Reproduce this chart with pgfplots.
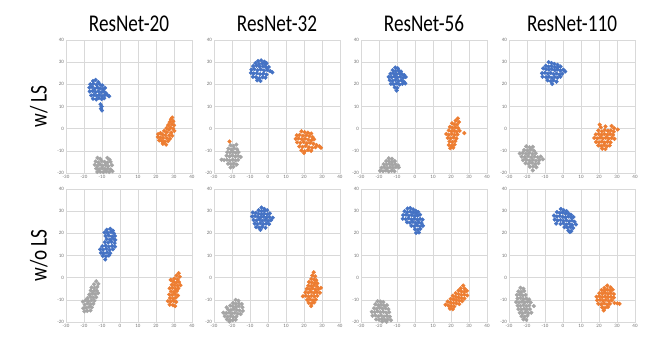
\documentclass[border=0pt]{standalone}
\usepackage{fontspec}
\setmainfont{Carlito}
\newfontfamily\tfont[FakeStretch=0.8]{Carlito}
\usepackage{pgfplots}
\pgfplotsset{compat=1.18}

\definecolor{cblue}{HTML}{4472C4}
\definecolor{corange}{HTML}{ED7D31}
\definecolor{cgray}{HTML}{A5A5A5}
\definecolor{gridc}{HTML}{D9D9D9}

\tikzset{rowlab/.style={rotate=90, anchor=center, font=\tfont\fontsize{24}{28}\selectfont}}
\pgfplotsset{
  panel/.style={
    scale only axis, width=126pt, height=133pt, anchor=south west,
    xmin=-30, xmax=40, ymin=-20, ymax=40,
    xtick={-30,-20,...,40}, ytick={-20,-10,...,40},
    grid=major, major grid style={draw=gridc, line width=0.5pt},
    axis line style={draw=gridc, line width=0.5pt},
    major tick length=0pt,
    tick label style={font=\fontsize{5}{6}\selectfont, text=black!55},
    /pgf/number format/assume math mode=true,
    xticklabel style={yshift=1.5pt}, yticklabel style={xshift=1.5pt},
    title style={font=\tfont\fontsize{24}{28}\selectfont, yshift=-1pt},
    clip=false,
  },
  pb/.style={only marks, mark=*, mark size=1.9pt, color=cblue},
  po/.style={only marks, mark=*, mark size=1.9pt, color=corange},
  pg/.style={only marks, mark=*, mark size=1.9pt, color=cgray},
}

\begin{document}
\begin{tikzpicture}
\useasboundingbox (0,0) rectangle (664pt,340pt);

% ---------- row 1: w/ LS ----------
\begin{axis}[panel, at={(66pt,167pt)}, title={ResNet-20}]
\addplot[pg] coordinates {(-12.5,-13.2)(-11,-13.6)(-7,-13.2)(-5.8,-14)(-13.5,-14.8)(-12,-15.2)(-10.2,-14.6)(-8.5,-15)(-7,-15.3)(-5.2,-15)(-14,-16.3)(-12.5,-16.8)(-11,-16.2)(-9.6,-16.7)(-8,-16.4)(-6.5,-16.9)(-4.5,-16.5)(-13.2,-18)(-11.6,-18.3)(-10,-17.8)(-8.4,-18.2)(-6.8,-18)(-5.2,-18.4)(-12.6,-19.5)(-11,-19.4)(-9.2,-19.6)(-7.6,-19.3)(-6,-19.5)(-4.2,-19.2)};
\addplot[po] coordinates {(29,5)(28.3,4.2)(29.6,3.3)(27.6,3)(28.8,2)(30,1.5)(26.8,1.6)(28,0.6)(29.5,0)(25.8,0.2)(27.2,-0.5)(30.2,-1)(24.5,-1)(26,-1.6)(28.5,-1.8)(22.5,-2)(21.2,-2.5)(23.6,-2.6)(25.2,-2.9)(27.4,-3)(29,-3.2)(21,-3.8)(22.5,-4)(24,-4.2)(26,-4.3)(27.8,-4.5)(21.8,-5.3)(23.2,-5.5)(25,-5.8)(26.8,-5.6)(23.8,-6.8)(25.6,-7.2)(24.5,-6)};
\addplot[pb] coordinates {(-15,21.5)(-13.5,22)(-12,21)(-16.5,20)(-14.8,20.3)(-13,19.8)(-11.2,20)(-9.8,19.5)(-17,18.5)(-15.5,18.8)(-14,18)(-12.5,18.6)(-11,18.2)(-9.5,17.8)(-8.3,18.4)(-16.8,16.8)(-15.2,17)(-13.6,16.5)(-12,16.9)(-10.4,16.4)(-9,16.8)(-7.8,16)(-16,15)(-14.5,15.2)(-13,14.8)(-11.5,15.3)(-10,14.7)(-8.5,15.1)(-7,15.2)(-6,14.6)(-15,13.5)(-13.2,13.2)(-11.8,13.8)(-10.2,13.4)(-8.8,13.7)(-10.8,11)(-10.2,10)(-10.6,9)(-10,8.2)};
\node[rowlab] at (rel axis cs:-0.215,0.5) {w/ LS};
\end{axis}

\begin{axis}[panel, at={(214pt,167pt)}, title={ResNet-32}]
\addplot[pg] coordinates {(-20.8,-7.5)(-19.2,-7.8)(-17.6,-7.2)(-22,-9)(-20.4,-9.4)(-18.8,-8.9)(-17.2,-9.3)(-22.6,-10.6)(-21,-10.8)(-19.4,-10.5)(-17.8,-10.9)(-16.4,-10.6)(-23,-12.2)(-21.4,-12.5)(-19.8,-12.1)(-18.2,-12.6)(-16.6,-12.3)(-15.2,-12.8)(-25.8,-14)(-24.4,-14.2)(-22.8,-14)(-21.2,-14.4)(-19.6,-14)(-18,-14.3)(-16.6,-14.1)(-22.2,-15.8)(-20.6,-16)(-19,-15.7)(-17.4,-16.2)(-20.8,-17.5)(-19.2,-17.2)};
\addplot[po] coordinates {(-21.4,-5.8)(18.6,-1.2)(20.4,-1.6)(22.2,-1.8)(24,-2.2)(16,-3)(17.6,-2.8)(19.4,-3.2)(21.2,-3)(23,-3.4)(24.8,-3.8)(15.4,-4.6)(17,-4.4)(18.8,-4.8)(20.6,-4.5)(22.4,-5)(24.2,-5.2)(25.6,-4.8)(16.2,-6.2)(18,-6.4)(19.8,-6)(21.6,-6.6)(23.4,-6.4)(25.2,-6.8)(27,-7.4)(28.6,-8)(29.4,-8.6)(17.4,-8)(19.2,-8.2)(21,-7.8)(22.8,-8.4)(24.6,-8.6)(26.4,-8.4)(18.6,-9.8)(20.4,-10.2)(22.2,-9.6)(24,-10)(20,-11)};
\addplot[pb] coordinates {(-5.5,30.5)(-3.8,30.8)(-2,30.2)(-0.8,29.6)(-7,29.6)(-5,29.2)(-3.2,29.4)(-1.4,28.8)(-8.2,28.2)(-6.4,28.4)(-4.6,28)(-2.8,28.1)(-1,27.6)(0.4,27.8)(-9.2,26.6)(-7.6,26.9)(-5.8,26.4)(-4,26.7)(-2.2,26.2)(-0.4,26.5)(1.2,26)(2.4,25.4)(-9.5,25.2)(-8,24.9)(-6.2,25)(-4.4,24.6)(-2.6,24.8)(-0.8,24.4)(-8.4,23.4)(-6.6,23.2)(-4.8,22.8)(-3,23.2)(-1.4,23)(-6,21.8)(-4.2,21.5)};
\end{axis}

\begin{axis}[panel, at={(361pt,167pt)}, title={ResNet-56}]
\addplot[pg] coordinates {(-14.6,-13.4)(-12.8,-13.6)(-16,-14.6)(-14.4,-14.8)(-12.8,-15)(-11.2,-14.6)(-17.4,-16)(-15.8,-16.2)(-14.2,-15.9)(-12.6,-16.3)(-11,-16)(-9.4,-16.6)(-18.6,-17.6)(-17,-17.4)(-15.4,-17.8)(-13.8,-17.4)(-12.2,-17.7)(-10.6,-17.3)(-9,-17.5)(-19.4,-19)(-17.8,-19.2)(-16.2,-18.9)(-14.6,-19.3)(-13,-19)(-11.4,-19.2)};
\addplot[po] coordinates {(23.8,4.6)(22.6,3.6)(24.4,3)(20.6,2.4)(21.8,2)(23.4,1.8)(19.4,0.8)(20.8,0.4)(22.4,0.6)(24,0.2)(18.8,-0.8)(20.2,-1.2)(21.8,-1)(23.2,-1.4)(24.8,-1)(17.4,-2.4)(18.8,-2.8)(20.4,-2.4)(22,-2.8)(23.6,-2.6)(27.4,-2)(18.2,-4.2)(19.8,-4.4)(21.4,-4)(23,-4.4)(19.2,-5.8)(20.8,-6)(22.4,-5.6)(18.8,-7.4)(20.4,-7.6)(22,-7.2)(19.6,-8.8)(21.2,-8.6)};
\addplot[pb] coordinates {(-11,27.6)(-9.6,27.2)(-12.4,26.4)(-10.8,26)(-9.2,26.3)(-7.8,25.8)(-13.6,24.8)(-12,25)(-10.4,24.6)(-8.8,24.9)(-7.2,24.5)(-6,24.2)(-14.6,23.4)(-13,23.2)(-11.4,23.6)(-9.8,23.1)(-8.2,23.4)(-6.6,22.9)(-5.2,23.3)(-14,21.8)(-12.4,21.6)(-10.8,22)(-9.2,21.5)(-7.6,21.8)(-6.2,21.2)(-13.4,20.2)(-11.8,20)(-10.2,20.4)(-8.6,19.9)(-7,20.2)(-5.4,20.4)(-11.2,18.6)(-9.8,18.4)(-10.2,17.2)};
\end{axis}

\begin{axis}[panel, at={(509pt,167pt)}, title={ResNet-110}]
\addplot[pg] coordinates {(-20.4,-8)(-18.6,-8.4)(-16.8,-8.2)(-21.6,-9.6)(-19.8,-9.8)(-18,-9.4)(-16.2,-9.9)(-24,-11.2)(-22.4,-11)(-20.6,-11.3)(-18.8,-11)(-17,-11.4)(-15.2,-11.1)(-23,-12.6)(-21.2,-12.8)(-19.4,-12.4)(-17.6,-12.9)(-15.8,-12.6)(-14,-12.9)(-12.4,-12.6)(-22.2,-14.2)(-20.4,-14)(-18.6,-14.4)(-16.8,-14.1)(-15,-14.5)(-13.2,-14.2)(-11.2,-13.8)(-20.8,-15.6)(-19,-15.8)(-17.2,-15.4)(-15.4,-15.9)(-13.6,-15.6)(-18.4,-17.2)(-16.6,-17)(-14.8,-17.4)(-16.8,-18.8)};
\addplot[po] coordinates {(20.4,1.8)(21,0.6)(23.6,1)(27,1.2)(28.4,0.2)(30.4,-0.4)(19.6,-0.8)(21.6,-1.2)(23.2,-0.6)(25,-1)(26.6,-0.8)(28.2,-1.4)(18.2,-2.6)(19.8,-2.4)(21.4,-2.8)(23,-2.4)(24.6,-2.8)(26.2,-2.4)(27.8,-2.8)(17.4,-4.2)(19,-4.4)(20.6,-4)(22.2,-4.4)(23.8,-4.1)(25.4,-4.5)(27,-4.2)(28.6,-4.6)(18.4,-6)(20,-6.2)(21.6,-5.8)(23.2,-6.3)(24.8,-5.9)(26.4,-6.2)(19.6,-7.6)(21.2,-7.8)(22.8,-7.4)(24.4,-7.9)(26,-7.6)(21.8,-9)(23.6,-9.2)};
\addplot[pb] coordinates {(-8,30)(-6.4,29.6)(-4.8,29.2)(-3,28.8)(-9.6,28.4)(-8,28)(-6.4,28.2)(-4.6,27.8)(-3,27.6)(-1.4,28)(-11,27.2)(-9.4,26.8)(-7.8,26.6)(-6.2,26.9)(-4.6,26.4)(-3,26.7)(-1.4,26.2)(0.2,26.6)(1.2,25.8)(-11.6,25)(-10,25.2)(-8.4,24.8)(-6.8,25.1)(-5.2,24.6)(-3.6,24.9)(-2,24.4)(-0.4,24.8)(-11.4,23.4)(-9.4,23.2)(-7.8,23.4)(-6.2,22.9)(-4.6,23.3)(-3,23)(-1.4,23.4)(-8.6,21.8)(-6.8,21.4)(-5.2,21.8)(-3.6,21.2)(-6,20.2)};
\end{axis}

% ---------- row 2: w/o LS ----------
\begin{axis}[panel, at={(66pt,18pt)}]
\addplot[pg] coordinates {(-13.2,-1.6)(-12,-2.8)(-14.4,-3)(-12.6,-4.2)(-14.2,-4.6)(-15.8,-4.4)(-13,-5.8)(-14.6,-6)(-16.2,-5.8)(-12.2,-7)(-13.8,-7.4)(-15.4,-7.2)(-17,-7.6)(-13.2,-8.8)(-14.8,-9)(-16.4,-8.6)(-18,-9.2)(-14.2,-10.4)(-15.8,-10.2)(-17.4,-10.6)(-19,-10.2)(-20.6,-10.8)(-14.8,-11.8)(-16.4,-12)(-18,-11.6)(-19.6,-12.2)(-15.6,-13.4)(-17.2,-13.2)(-18.8,-13.6)(-20.4,-13.8)(-16.4,-14.8)(-18.2,-15)(-19.8,-15.2)};
\addplot[po] coordinates {(32.6,2)(31.4,1)(33.2,0.4)(30.2,-0.4)(32,-0.8)(28.2,-1)(29.6,-1.8)(31.2,-2.2)(32.8,-2)(28.8,-3.2)(30.4,-3.4)(32,-3.6)(33.6,-3.4)(27.6,-4.8)(29.2,-4.6)(30.8,-5)(32.4,-4.8)(28.4,-6.2)(30,-6.4)(31.6,-6)(27.4,-7.6)(29,-7.8)(30.6,-7.4)(32.2,-8)(27.8,-9.2)(29.4,-9.4)(31,-9)(26.6,-10.6)(28.2,-10.8)(29.8,-10.4)(31.2,-11)(27.6,-12.2)(29.4,-12.4)(30.6,-12.8)};
\addplot[pb] coordinates {(-7.4,21.6)(-5.4,22)(-4,21.2)(-8.6,20.4)(-6.8,20.2)(-5,20.6)(-3.4,20)(-8,18.8)(-6.2,19)(-4.4,18.6)(-2.8,18.8)(-7.4,17.4)(-5.6,17.2)(-3.8,17.6)(-2.6,17)(-8.4,16)(-6.6,15.8)(-4.8,16.2)(-3,15.6)(-9.8,14.2)(-8,14.4)(-6.2,14)(-4.4,14.3)(-2.8,14)(-11,12.8)(-9.4,12.6)(-7.6,13)(-5.8,12.5)(-4,12.8)(-10.6,11.2)(-9,11)(-7.2,11.4)(-5.4,11)(-9.6,9.8)(-7.8,9.6)(-6.2,10)(-8.2,8.2)};
\node[rowlab] at (rel axis cs:-0.215,0.5) {w/o LS};
\end{axis}

\begin{axis}[panel, at={(214pt,18pt)}]
\addplot[pg] coordinates {(-18,-10)(-16.4,-10.4)(-19.4,-11.4)(-17.8,-11.8)(-16.2,-11.6)(-14.6,-11.9)(-21,-12.6)(-19.4,-13)(-17.8,-13.2)(-16.2,-12.8)(-14.2,-13.4)(-23,-13.4)(-22.2,-14.4)(-20.6,-14.6)(-19,-14.2)(-17.4,-14.6)(-15.8,-14.8)(-14,-15)(-24.8,-15.8)(-23.2,-16)(-21.6,-15.8)(-20,-16.2)(-18.4,-15.9)(-16.8,-16.3)(-15.2,-16.4)(-24,-17.4)(-22.4,-17.6)(-20.8,-17.4)(-19.2,-17.8)(-17.6,-17.6)(-22.8,-18.8)(-21.2,-19)(-19.6,-19.2)(-18,-19)(-21.4,-19.8)};
\addplot[po] coordinates {(25.4,2.4)(24.6,1)(26.2,0.6)(24,-0.6)(25.6,-0.8)(26.8,-1.2)(22.8,-2)(24.4,-2.2)(26,-2.4)(27.4,-2.6)(22.4,-3.6)(24,-3.8)(25.6,-3.4)(27.2,-4)(21.6,-5)(23.2,-5.2)(24.8,-4.8)(26.4,-5.4)(28,-5.2)(29.4,-4.6)(20.8,-6.6)(22.4,-6.8)(24,-6.4)(25.6,-6.9)(27.2,-6.6)(28.8,-6.8)(19.4,-8.4)(21,-8.2)(22.6,-8.6)(24.2,-8.2)(25.8,-8.5)(27.4,-8.2)(21.8,-10)(23.4,-9.8)(25,-10.2)(26.6,-9.9)(22.6,-11.4)(24.2,-11.6)(25.6,-11.2)(24,-12.8)};
\addplot[pb] coordinates {(-3.6,31.6)(-2,31)(-5.2,30.4)(-3.6,30)(-2,30.2)(-0.4,30.4)(-8.4,29.4)(-6.8,29.2)(-5.2,28.8)(-3.6,28.6)(-2,28.9)(-0.4,28.6)(1,29)(-8.8,27.6)(-7.2,27.8)(-5.6,27.4)(-4,27.2)(-2.4,27.5)(-0.8,27.1)(0.8,27.4)(2.6,27)(-8,26)(-6.4,25.8)(-4.8,26.2)(-3.2,25.7)(-1.6,26)(0,25.6)(1.6,25.9)(-7.4,24.4)(-5.8,24.2)(-4.2,24.6)(-2.6,24.1)(-1,24.4)(0.6,24.2)(-6.6,22.8)(-5,22.6)(-3.2,22.9)(-1.4,22.5)(-4.2,21.6)};
\end{axis}

\begin{axis}[panel, at={(361pt,18pt)}]
\addplot[pg] coordinates {(-20.8,-10.6)(-19.2,-10.8)(-17.6,-11)(-22,-12)(-20.4,-12.4)(-18.8,-12.2)(-17.2,-12.6)(-15.6,-12.4)(-22.8,-13.8)(-21.2,-14)(-19.6,-13.6)(-18,-14)(-16.4,-13.8)(-14.8,-14.2)(-24,-15.4)(-22.4,-15.6)(-20.8,-15.2)(-19.2,-15.6)(-17.6,-15.4)(-16,-15.8)(-14.4,-15.6)(-23.6,-17.2)(-22,-17)(-20.4,-17.4)(-18.8,-17)(-17.2,-17.5)(-15.6,-17.2)(-14,-17.6)(-21.6,-18.8)(-20,-19)(-18.4,-18.6)(-16.8,-19)(-15.2,-18.8)(-13.4,-19.2)(-18.2,-19.8)(-15.8,-19.9)};
\addplot[po] coordinates {(26.8,-3.6)(25.4,-4.8)(27.6,-5)(24.2,-5.8)(25.8,-6.2)(27.4,-6.4)(28.8,-6)(22.6,-7)(24.2,-7.4)(25.8,-7.8)(27.4,-7.6)(29,-8)(21,-8.2)(22.6,-8.6)(24.2,-8.9)(25.8,-9.2)(27.4,-9.4)(19.8,-9.6)(21.4,-9.8)(23,-10.2)(24.6,-10.4)(26.2,-10.6)(18.2,-10.8)(19.8,-11.2)(21.4,-11.4)(23,-11.6)(24.6,-11.9)(17,-12.2)(18.6,-12.6)(20.2,-12.8)(21.8,-13)(19.4,-14)(21,-14.2)};
\addplot[pb] coordinates {(-4.2,31.2)(-2.6,31.4)(-1,30.8)(0.4,30.2)(-5.8,30)(-4.2,29.6)(-2.6,29.8)(-1,29.4)(0.6,29.2)(1.8,29.6)(-6.6,28.2)(-5,28.4)(-3.4,28)(-1.8,28.2)(-0.2,27.8)(1.4,28)(2.8,28.4)(-6.8,26.6)(-5.2,26.4)(-3.6,26.8)(-2,26.3)(-0.4,26.6)(1.2,26.2)(2.8,26.5)(4.2,26.2)(-4.4,25)(-2.8,24.8)(-1.2,25.2)(0.4,24.7)(2,25)(3.6,24.6)(-2,23.4)(-0.4,23.2)(1.2,23.6)(2.8,23.1)(4.4,23.4)(0,21.8)(1.6,21.6)(3,22)(0.6,20.2)(2.2,20.4)};
\end{axis}

\begin{axis}[panel, at={(509pt,18pt)}]
\addplot[pg] coordinates {(-23.6,-4.6)(-22,-5)(-24.8,-6.2)(-23.2,-6.4)(-21.6,-6)(-25.6,-7.8)(-24,-7.6)(-22.4,-8)(-20.8,-7.8)(-25.2,-9.4)(-23.6,-9.2)(-22,-9.6)(-20.4,-9.4)(-18.8,-9.8)(-26,-11)(-24.4,-11.2)(-22.8,-10.8)(-21.2,-11.2)(-19.6,-10.8)(-18,-11.2)(-25.2,-12.6)(-23.6,-12.8)(-22,-12.4)(-20.4,-12.8)(-18.8,-12.6)(-16.2,-12.8)(-24.8,-14.2)(-23.2,-14.4)(-21.6,-14)(-20,-14.4)(-18.4,-14.2)(-24,-15.8)(-22.4,-16)(-20.8,-15.6)(-19.2,-16)(-17.6,-15.8)(-23,-17.4)(-21.4,-17.6)(-19.8,-17.2)(-22,-18.8)(-20.4,-19)};
\addplot[po] coordinates {(24.6,-3.6)(23,-4.6)(26.4,-4.4)(21.4,-5.6)(23,-5.8)(24.6,-5.4)(26.2,-5.9)(27.6,-5.4)(20.2,-7)(21.8,-7.2)(23.4,-6.8)(25,-7.3)(26.6,-7)(28.2,-7.4)(18.6,-8.6)(20.2,-8.4)(21.8,-8.8)(23.4,-8.5)(25,-8.9)(26.6,-8.6)(28.2,-9)(19,-10.2)(20.6,-10)(22.2,-10.4)(23.8,-10)(25.4,-10.5)(27,-10.2)(28.6,-11.4)(30.2,-11.6)(31.4,-11.8)(19.6,-11.8)(21.2,-12)(22.8,-11.6)(24.4,-12.1)(26,-11.8)(21.8,-13.4)(23.4,-13.6)(25,-13.2)(22.6,-14.8)};
\addplot[pb] coordinates {(-1.2,31)(0.4,30.4)(2,30)(-3.4,29.6)(-1.8,29.2)(-0.2,29.4)(1.4,28.8)(3,29)(4.4,28.4)(-5,28)(-3.4,27.6)(-1.8,27.8)(-0.2,27.4)(1.4,27.2)(3,27.6)(4.6,27)(5.8,27.4)(-4.6,26.2)(-3,25.8)(-1.4,26)(0.2,25.6)(1.8,25.9)(3.4,25.4)(5,25.8)(6.4,25.2)(-3.8,24.4)(-1.4,24.2)(0.2,24.6)(1.8,24)(3.4,24.4)(5,23.8)(7.2,24)(0.8,22.8)(2.4,22.6)(4,22.9)(5.6,22.4)(3,21.2)(4.6,21)(3.8,20.6)};
\end{axis}
\end{tikzpicture}
\end{document}
